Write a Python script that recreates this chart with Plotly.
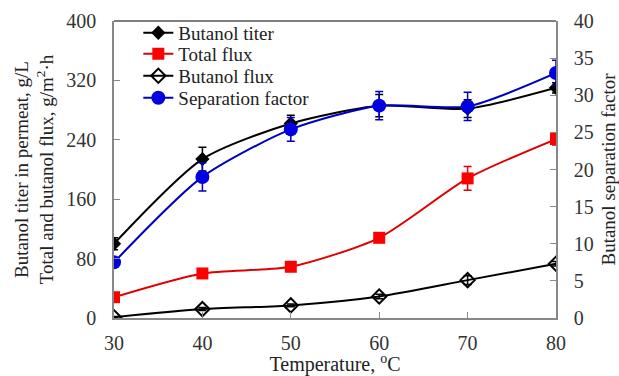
import plotly.graph_objects as go

temperature = [30, 40, 50, 60, 70, 80]
left_ticks = [0, 80, 160, 240, 320, 400]
right_ticks = [0, 5, 10, 15, 20, 25, 30, 35, 40]
butanol_titer = [100, 214, 262, 286, 282, 310]
butanol_titer_err = [8, 16, 11, 15, 12, 7]
total_flux = [28, 60, 69, 108, 188, 241]
total_flux_err = [3, 4, 4, 5, 16, 8]
butanol_flux = [1, 12, 17, 29, 51, 73]
butanol_flux_err = [1, 2, 2, 3, 6, 3]
separation_factor = [7.5, 19.0, 25.4, 28.6, 28.5, 33.0]
separation_factor_err = [0.4, 1.9, 1.6, 1.9, 1.9, 1.7]

FONT = "Times New Roman, Liberation Serif, serif"

fig = go.Figure()

fig.add_trace(go.Scatter(
    x=temperature, y=butanol_titer, name="Butanol titer", legend="legend",
    mode="lines+markers", line=dict(color="black", width=2, shape="spline", smoothing=0.7),
    marker=dict(symbol="diamond", size=11, color="black"),
    error_y=dict(type="data", array=butanol_titer_err, color="black", thickness=1.5, width=4),
))
fig.add_trace(go.Scatter(
    x=temperature, y=total_flux, name="Total flux", legend="legend2",
    mode="lines+markers", line=dict(color="#e00000", width=2, shape="spline", smoothing=0.7),
    marker=dict(symbol="square", size=12, color="#ff0000"),
    error_y=dict(type="data", array=total_flux_err, color="#e00000", thickness=1.5, width=4),
))
fig.add_trace(go.Scatter(
    x=temperature, y=butanol_flux, name="Butanol flux", legend="legend3",
    mode="lines+markers", line=dict(color="black", width=2, shape="spline", smoothing=0.7),
    marker=dict(symbol="diamond-open", size=11, color="black", line=dict(width=2)),
    error_y=dict(type="data", array=butanol_flux_err, color="black", thickness=1.5, width=4),
))
fig.add_trace(go.Scatter(
    x=temperature, y=separation_factor, name="Separation factor", yaxis="y2", legend="legend4",
    mode="lines+markers", line=dict(color="#0000c0", width=2, shape="spline", smoothing=0.7),
    marker=dict(symbol="circle", size=14, color="#0000e0"),
    error_y=dict(type="data", array=separation_factor_err, color="#0000c0", thickness=1.5, width=4),
))


def axis_style():
    return dict(showgrid=False, zeroline=False, showline=True, linecolor="#888888",
                linewidth=1.5, ticks="inside", ticklen=6, tickcolor="#888888", automargin=False,
                tickfont=dict(family=FONT, size=20, color="#333333"))


def legend_at(ypos):
    return dict(x=0.055, y=ypos, xanchor="left", yanchor="middle",
                bgcolor="rgba(0,0,0,0)", font=dict(family=FONT, size=19, color="#222222"),
                itemwidth=30, tracegroupgap=0)


fig.update_layout(
    width=619, height=376,
    margin=dict(l=114, r=63, t=21, b=58),
    paper_bgcolor="white", plot_bgcolor="white",
    font=dict(family=FONT, size=19, color="#222222"),
    showlegend=True,
    legend=legend_at(0.960),
    legend2=legend_at(0.889),
    legend3=legend_at(0.815),
    legend4=legend_at(0.741),
    xaxis=dict(range=[30, 80], tickvals=temperature, ticklabelstandoff=6,
               title=dict(text="Temperature, <sup>o</sup>C", font=dict(family=FONT, size=20), standoff=5),
               **axis_style()),
    yaxis=dict(range=[0, 400], tickvals=left_ticks, ticklabelstandoff=12,
               title=dict(text="Butanol titer in permeat, g/L<br>Total and butanol flux, g/m<sup>2</sup>·h",
                          font=dict(family=FONT, size=19), standoff=8),
               **axis_style()),
    yaxis2=dict(range=[0, 40], tickvals=right_ticks,
                overlaying="y", side="right", ticklabelstandoff=12,
                title=dict(text="Butanol separation factor", font=dict(family=FONT, size=19), standoff=10),
                **axis_style()),
)

# top border of the plot area
fig.add_shape(type="line", xref="paper", yref="paper", x0=0, x1=1, y0=1, y1=1,
              line=dict(color="#555555", width=1.5))

fig.write_html("out.html")
